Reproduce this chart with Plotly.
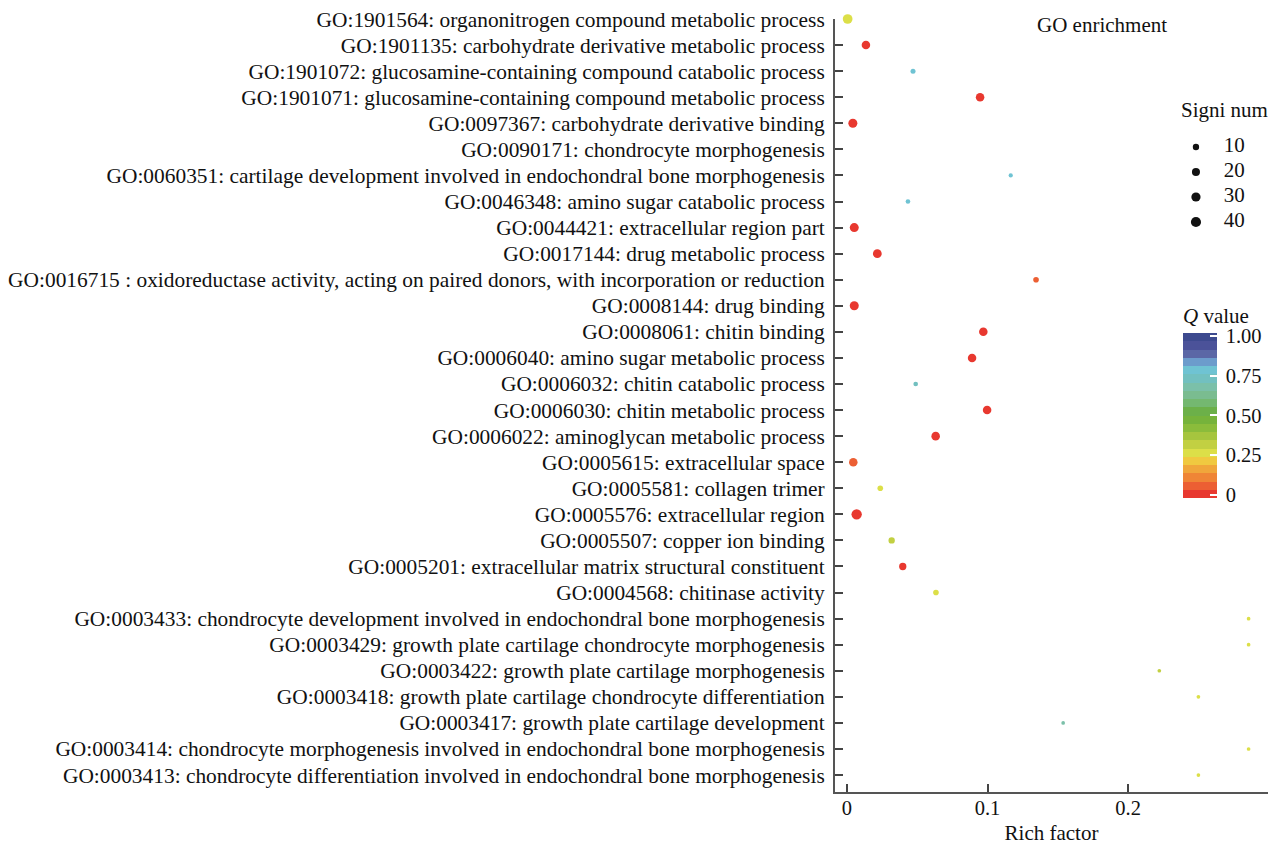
import numpy as np
import plotly.graph_objects as go

terms = [
    "GO:1901564: organonitrogen compound metabolic process",
    "GO:1901135: carbohydrate derivative metabolic process",
    "GO:1901072: glucosamine-containing compound catabolic process",
    "GO:1901071: glucosamine-containing compound metabolic process",
    "GO:0097367: carbohydrate derivative binding",
    "GO:0090171: chondrocyte morphogenesis",
    "GO:0060351: cartilage development involved in endochondral bone morphogenesis",
    "GO:0046348: amino sugar catabolic process",
    "GO:0044421: extracellular region part",
    "GO:0017144: drug metabolic process",
    "GO:0016715 : oxidoreductase activity, acting on paired donors, with incorporation or reduction",
    "GO:0008144: drug binding",
    "GO:0008061: chitin binding",
    "GO:0006040: amino sugar metabolic process",
    "GO:0006032: chitin catabolic process",
    "GO:0006030: chitin metabolic process",
    "GO:0006022: aminoglycan metabolic process",
    "GO:0005615: extracellular space",
    "GO:0005581: collagen trimer",
    "GO:0005576: extracellular region",
    "GO:0005507: copper ion binding",
    "GO:0005201: extracellular matrix structural constituent",
    "GO:0004568: chitinase activity",
    "GO:0003433: chondrocyte development involved in endochondral bone morphogenesis",
    "GO:0003429: growth plate cartilage chondrocyte morphogenesis",
    "GO:0003422: growth plate cartilage morphogenesis",
    "GO:0003418: growth plate cartilage chondrocyte differentiation",
    "GO:0003417: growth plate cartilage development",
    "GO:0003414: chondrocyte morphogenesis involved in endochondral bone morphogenesis",
    "GO:0003413: chondrocyte differentiation involved in endochondral bone morphogenesis",
]

rich_factor = [0.0005, 0.0135, 0.047, 0.0947, 0.0042, None, 0.1165, 0.0434, 0.0052, 0.0216,
               0.1345, 0.0052, 0.097, 0.089, 0.0489, 0.0997, 0.0631, 0.0045, 0.0237, 0.0069,
               0.0318, 0.0397, 0.0633, 0.2857, 0.2857, 0.2222, 0.25, 0.1538, 0.2857, 0.25]

signi_num = [35, 24, 5, 24, 28, None, 3, 4, 28, 26,
             7, 28, 24, 24, 4, 24, 24, 24, 7, 42,
             10, 15, 7, 2, 2, 2, 2, 2, 2, 2]

q_value = [0.29, 0.01, 0.77, 0.01, 0.01, None, 0.77, 0.76, 0.01, 0.01,
           0.07, 0.01, 0.01, 0.01, 0.75, 0.01, 0.01, 0.08, 0.24, 0.01,
           0.32, 0.02, 0.28, 0.26, 0.26, 0.33, 0.27, 0.66, 0.26, 0.27]

legend_sizes = [10, 20, 30, 40]
legend_labels = ["10", "20", "30", "40"]
x_ticks = [0, 0.1, 0.2]
x_ticktext = ["0", "0.1", "0.2"]
cbar_ticks = [0, 0.25, 0.5, 0.75, 1.0]
cbar_ticktext = ["0", "0.25", "0.50", "0.75", "1.00"]

band_colors = [
    "#e8382f", "#ec5f33", "#ef8536", "#f0a63b", "#f0c940",
    "#dcdf48", "#c2d042", "#a6c53e", "#8bbc3b", "#76b33b",
    "#6cb049", "#74b870", "#7abc90", "#7bc0a9", "#72c0c0",
    "#6fc3d3", "#6c9ccc", "#5b67a6", "#4b5299", "#3d4a8f",
]
n = len(band_colors)
colorscale = []
for i, c in enumerate(band_colors):
    colorscale.append([i / n, c])
    colorscale.append([(i + 1) / n, c])


def diam(v):
    return 2.9 * v ** 0.34


FONT = "Liberation Serif"
TXT = "#111111"
ypos = list(range(len(terms)))
xs = np.array([np.nan if v is None else v for v in rich_factor], dtype=float)
sizes = np.array([0.0 if s is None else diam(s) for s in signi_num], dtype=float)
qs = np.array([0.0 if q is None else q for q in q_value], dtype=float)

fig = go.Figure()
fig.add_trace(go.Scatter(
    x=xs, y=ypos, mode="markers", showlegend=False, cliponaxis=False,
    marker=dict(size=sizes, sizemode="diameter", color=qs, cmin=-0.022, cmax=1.02,
                opacity=1, colorscale=colorscale, line=dict(width=0),
                colorbar=dict(
                    title=dict(text="<i>Q</i> value", side="top",
                               font=dict(family=FONT, size=21, color=TXT)),
                    tickvals=cbar_ticks,
                    ticktext=["\u2009" + t for t in cbar_ticktext],
                    ticks="inside", tickcolor="white", ticklen=7, tickwidth=1.5,
                    tickfont=dict(family=FONT, size=20.5, color=TXT),
                    thickness=34, thicknessmode="pixels",
                    len=194, lenmode="pixels",
                    x=0.8037, xanchor="left", xref="paper",
                    y=(792 - 498) / 773, yanchor="bottom", yref="paper",
                    xpad=0, ypad=0, outlinewidth=0,
                )),
))

# size legend drawn on its own small axis
fig.add_trace(go.Scatter(
    x=[0.217] * len(legend_sizes), y=legend_sizes, mode="markers",
    xaxis="x2", yaxis="y2", showlegend=False, hoverinfo="skip",
    marker=dict(size=[diam(s) for s in legend_sizes], color=TXT, opacity=1,
                line=dict(width=0)),
))
fig.add_trace(go.Scatter(
    x=[0.52] * len(legend_sizes), y=legend_sizes, mode="text", text=legend_labels,
    textposition="middle right", xaxis="x2", yaxis="y2", showlegend=False,
    hoverinfo="skip", textfont=dict(family=FONT, size=21, color=TXT),
))

fig.update_layout(
    width=1280, height=849,
    margin=dict(l=835, r=12, t=19, b=57, autoexpand=False),
    paper_bgcolor="white", plot_bgcolor="white",
    font=dict(family=FONT, size=21, color=TXT),
    showlegend=False,
    xaxis=dict(
        range=[-0.0085, 0.2995], tickvals=x_ticks, ticktext=x_ticktext,
        ticks="inside", ticklen=8, tickwidth=1.5, tickcolor="#444",
        showline=True, linecolor="#555", linewidth=2, showgrid=False, zeroline=False,
        tickfont=dict(family=FONT, size=20.5, color=TXT), automargin=False,
        ticklabelstandoff=-4,
        title=dict(text="Rich factor", font=dict(family=FONT, size=21, color=TXT), standoff=8),
    ),
    yaxis=dict(
        range=[len(terms) - 1 + 0.65, 0], tickvals=ypos, ticktext=terms,
        ticks="inside", ticklen=8, tickwidth=1.5, tickcolor="#444",
        showline=True, linecolor="#555", linewidth=2, showgrid=False, zeroline=False,
        tickfont=dict(family=FONT, size=21.4, color=TXT), ticklabelstandoff=4,
        automargin=False,
    ),
    xaxis2=dict(domain=[0.7875, 1.0], range=[0, 1], anchor="y2", visible=False,
                fixedrange=True),
    yaxis2=dict(domain=[(792 - 237) / 773, (792 - 132) / 773], range=[46, 4],
                anchor="x2", visible=False, fixedrange=True),
    annotations=[
        dict(text="GO enrichment", xref="paper", yref="paper", x=0.6155, y=1.0,
             xanchor="center", yanchor="top", yshift=8, showarrow=False,
             font=dict(family=FONT, size=21, color=TXT)),
        dict(text="Signi num", xref="paper", yref="paper",
             x=(1224 - 835) / 433, y=(792 - 110) / 773,
             xanchor="center", yanchor="middle", showarrow=False,
             font=dict(family=FONT, size=21, color=TXT)),
    ],
)

fig.write_html("out.html")
